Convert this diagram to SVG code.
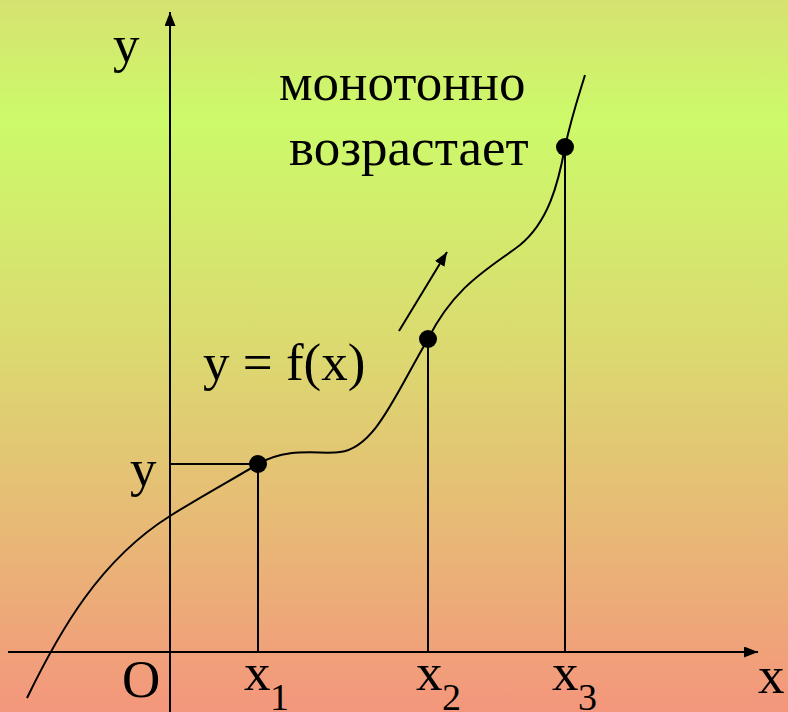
<svg xmlns="http://www.w3.org/2000/svg" width="788" height="712" viewBox="0 0 788 712">
<defs>
<linearGradient id="bg" x1="0" y1="0" x2="0" y2="1">
<stop offset="0" stop-color="#d6e270"/>
<stop offset="0.17" stop-color="#ccfa6a"/>
<stop offset="0.5" stop-color="#dcd870"/>
<stop offset="0.75" stop-color="#e8b876"/>
<stop offset="1" stop-color="#f4967c"/>
</linearGradient>
<marker id="ahb" viewBox="0 0 10 10" refX="10" refY="5" markerWidth="14" markerHeight="11" markerUnits="userSpaceOnUse" orient="auto" preserveAspectRatio="none">
<path d="M0,0 L10,5 L0,10 z" fill="#000"/>
</marker>
</defs>
<style>
.ln{stroke:#000;stroke-width:2;fill:none}
.t{font-family:"Liberation Serif","Times New Roman",serif;fill:#000}
.big{font-size:53px}
.sub{font-size:38px}
.pt{fill:#000}
</style>
<rect width="788" height="712" fill="url(#bg)"/>
<g id="axes">
<line class="ln" x1="170" y1="712" x2="170" y2="12" stroke-width="2.5" marker-end="url(#ahb)"/>
<line class="ln" x1="8" y1="652" x2="758" y2="652" stroke-width="2.5" marker-end="url(#ahb)"/>
</g>
<g id="connectors">
<line class="ln" x1="170" y1="464" x2="258" y2="464"/>
<line class="ln" x1="258" y1="464" x2="258" y2="652"/>
<line class="ln" x1="428" y1="339" x2="428" y2="652"/>
<line class="ln" x1="565" y1="147" x2="565" y2="652"/>
<line class="ln" x1="399" y1="331" x2="447" y2="252" stroke-width="2.5" marker-end="url(#ahb)"/>
</g>
<g id="curve">
<path class="ln" d="M27,698 C60,630 100,560 170,516 C200,497 235,478 258,464 C290,446 320,455 340,452 C375,448 395,395 428,339 C455,285 490,268 520,245 C548,222 558,185 565,147 C572,115 579,95 585,75"/>
</g>
<g id="points">
<circle class="pt" cx="258" cy="464" r="9"/>
<circle class="pt" cx="428" cy="339" r="9"/>
<circle class="pt" cx="565" cy="147" r="9"/>
</g>
<g id="labels">
<text class="t big" x="113" y="62">y</text>
<text class="t big" x="279" y="100">монотонно</text>
<text class="t big" x="289" y="165">возрастает</text>
<text class="t big" x="203" y="380">y = f(x)</text>
<text class="t big" x="130" y="486">y</text>
<text class="t big" x="122" y="697">O</text>
<text class="t big" x="244" y="690">x</text>
<text class="t sub" x="270" y="710">1</text>
<text class="t big" x="416" y="690">x</text>
<text class="t sub" x="442" y="710">2</text>
<text class="t big" x="552" y="690">x</text>
<text class="t sub" x="578" y="710">3</text>
<text class="t big" x="758" y="693">x</text>
</g>
</svg>
